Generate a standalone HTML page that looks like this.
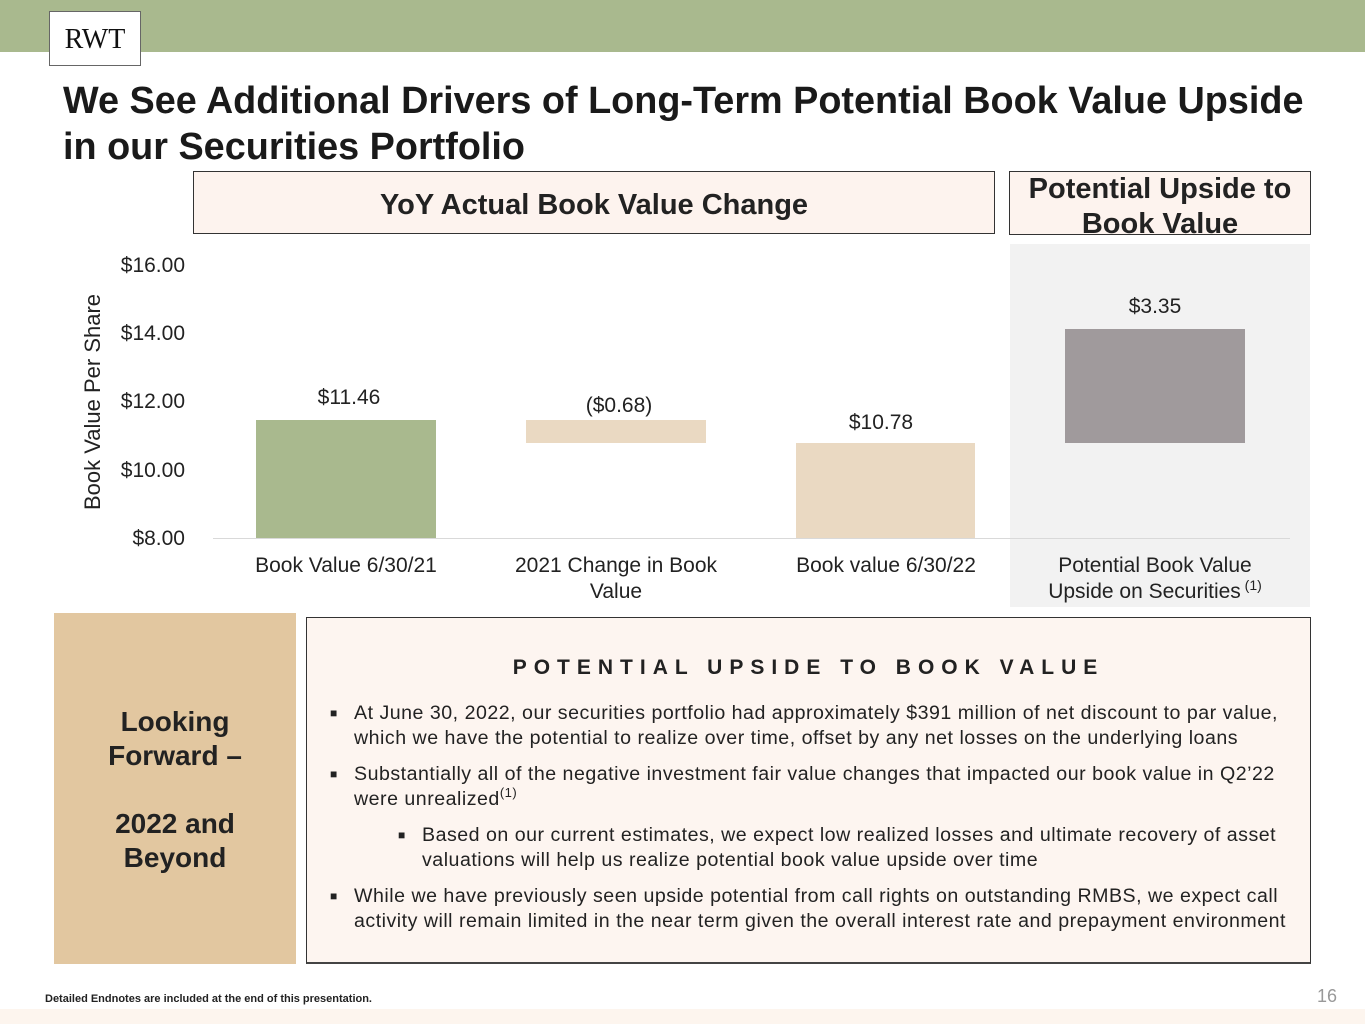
<!DOCTYPE html>
<html><head><style>
body{margin:0;width:1365px;height:1024px;position:relative;background:#fff;font-family:"Liberation Sans",sans-serif;color:#222;overflow:hidden}
.a{position:absolute}
.c{text-align:center}
sup{line-height:0;vertical-align:0;position:relative;top:-0.6em}
</style></head><body>
<div class="a" style="left:0;top:0;width:1365px;height:52px;background:#a9b98e"></div>
<div class="a c" style="left:49px;top:11px;width:92px;height:55px;background:#fff;border:1px solid #666;box-sizing:border-box;font-family:'Liberation Serif',serif;font-size:28px;line-height:55px;color:#111">RWT</div>
<div class="a" style="left:63px;top:78px;font-size:37.8px;font-weight:bold;line-height:46px;color:#1a1a1a">We See Additional Drivers of Long-Term Potential Book Value Upside<br>in our Securities Portfolio</div>
<div class="a c" style="left:193px;top:171px;width:802px;height:63px;box-sizing:border-box;border:1px solid #333;background:#fdf3ee;font-size:29px;font-weight:bold;line-height:66px">YoY Actual Book Value Change</div>
<div class="a c" style="left:1009px;top:171px;width:302px;height:64px;box-sizing:border-box;border:1px solid #333;background:#fdf3ee;font-size:29px;font-weight:bold;line-height:35px">Potential Upside to Book Value</div>
<div class="a" style="left:1010px;top:244px;width:300px;height:363px;background:#f2f2f2"></div>
<div class="a" style="left:213px;top:538px;width:1077px;height:1px;background:#d9d9d9"></div>
<div class="a" style="left:80px;top:266px;width:105px;font-size:21px;line-height:68.2px;text-align:right;margin-top:-34px">$16.00<br>$14.00<br>$12.00<br>$10.00<br>$8.00</div>
<div class="a c" style="left:-22px;top:389px;width:230px;font-size:22px;transform:rotate(-90deg);transform-origin:center">Book Value Per Share</div>
<div class="a" style="left:256px;top:420px;width:180px;height:118px;background:#a9b98e"></div>
<div class="a" style="left:526px;top:420px;width:180px;height:23px;background:#ead9c2"></div>
<div class="a" style="left:796px;top:443px;width:179px;height:95px;background:#ead9c2"></div>
<div class="a" style="left:1065px;top:329px;width:180px;height:114px;background:#a09a9c"></div>
<div class="a c" style="left:259px;top:386px;width:180px;font-size:21px">$11.46</div>
<div class="a c" style="left:526px;top:394px;width:186px;font-size:21px">($0.68)</div>
<div class="a c" style="left:791px;top:411px;width:180px;font-size:21px">$10.78</div>
<div class="a c" style="left:1065px;top:295px;width:180px;font-size:21px">$3.35</div>
<div class="a c" style="left:216px;top:553px;width:260px;font-size:21px;line-height:26px">Book Value 6/30/21</div>
<div class="a c" style="left:496px;top:553px;width:240px;font-size:21px;line-height:26px">2021 Change in Book Value</div>
<div class="a c" style="left:756px;top:553px;width:260px;font-size:21px;line-height:26px">Book value 6/30/22</div>
<div class="a c" style="left:1035px;top:553px;width:240px;font-size:21px;line-height:26px">Potential Book Value Upside on Securities<sup style="font-size:14px"> (1)</sup></div>
<div class="a" style="left:54px;top:613px;width:242px;height:351px;background:#e2c7a0"></div>
<div class="a c" style="left:54px;top:705px;width:242px;font-size:28px;font-weight:bold;line-height:34px;color:#222">Looking<br>Forward –<br><br>2022 and<br>Beyond</div>
<div class="a" style="left:306px;top:617px;width:1005px;height:347px;box-sizing:border-box;border:1px solid #333;border-bottom:2px solid #444;background:#fdf5f0"></div>
<div class="a c" style="left:306px;top:656px;width:1005px;font-size:21px;font-weight:bold;letter-spacing:7px">POTENTIAL UPSIDE TO BOOK VALUE</div>
<div class="a" style="left:330px;top:701px;width:966px;font-size:19.6px;letter-spacing:0.5px;line-height:25px;color:#222">
<div style="position:relative;padding-left:24px"><span style="position:absolute;left:0;font-size:12px">■</span>At June 30, 2022, our securities portfolio had approximately $391 million of net discount to par value, which we have the potential to realize over time, offset by any net losses on the underlying loans</div>
<div style="position:relative;padding-left:24px;margin-top:11px"><span style="position:absolute;left:0;font-size:12px">■</span>Substantially all of the negative investment fair value changes that impacted our book value in Q2’22 were unrealized<sup style="font-size:13px">(1)</sup></div>
<div style="position:relative;padding-left:92px;margin-top:11px"><span style="position:absolute;left:68px;font-size:12px">■</span>Based on our current estimates, we expect low realized losses and ultimate recovery of asset valuations will help us realize potential book value upside over time</div>
<div style="position:relative;padding-left:24px;margin-top:11px"><span style="position:absolute;left:0;font-size:12px">■</span>While we have previously seen upside potential from call rights on outstanding RMBS, we expect call activity will remain limited in the near term given the overall interest rate and prepayment environment</div>
</div>
<div class="a" style="left:45px;top:993px;font-size:11px;font-weight:bold">Detailed Endnotes are included at the end of this presentation.</div>
<div class="a" style="left:1317px;top:986px;font-size:18px;color:#999">16</div>
<div class="a" style="left:0;top:1009px;width:1365px;height:15px;background:#fdf5ee"></div>
</body></html>
